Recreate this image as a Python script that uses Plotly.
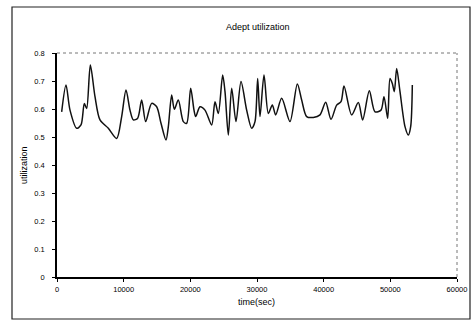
import plotly.graph_objects as go

time_sec = [700, 1350, 1950, 2950, 3600, 4100, 4450, 5000, 5700, 6450, 7700, 8950,
            9700, 10350, 10950, 11450, 12100, 12700, 13300, 14200, 14950, 15600, 16350,
            16700, 17200, 17600, 18200, 18950, 19450, 20050, 20550, 20800, 21450, 22200,
            23200, 23700, 24200, 24850, 25200, 25700, 26200, 26850, 27600, 28450, 29200,
            29700, 30100, 30450, 31050, 31700, 32300, 32800, 33700, 34950, 36050, 36700,
            37450, 38450, 39450, 40300, 41100, 41950, 42600, 43050, 44200, 45200, 45850,
            46850, 47700, 48600, 49050, 49600, 49950, 50300, 50600, 50950, 51450, 52200,
            52700, 53050, 53300]
utilization = [0.590, 0.686, 0.596, 0.531, 0.543, 0.620, 0.602, 0.757, 0.644, 0.561, 0.531, 0.495,
               0.573, 0.668, 0.596, 0.561, 0.567, 0.632, 0.555, 0.620, 0.608, 0.549, 0.489,
               0.537, 0.650, 0.599, 0.632, 0.555, 0.549, 0.674, 0.596, 0.573, 0.608, 0.596,
               0.543, 0.626, 0.584, 0.721, 0.662, 0.507, 0.674, 0.555, 0.698, 0.596, 0.531,
               0.555, 0.709, 0.573, 0.721, 0.584, 0.614, 0.579, 0.638, 0.555, 0.689, 0.632,
               0.573, 0.570, 0.579, 0.624, 0.563, 0.614, 0.626, 0.682, 0.579, 0.623, 0.561,
               0.665, 0.590, 0.596, 0.644, 0.567, 0.709, 0.691, 0.662, 0.745, 0.662, 0.537,
               0.507, 0.537, 0.686]

x_ticks = [0, 10000, 20000, 30000, 40000, 50000, 60000]
y_ticks = [0, 0.1, 0.2, 0.3, 0.4, 0.5, 0.6, 0.7, 0.8]
y_tick_labels = ["0", "0.1", "0.2", "0.3", "0.4", "0.5", "0.6", "0.7", "0.8"]

font = "Liberation Sans, Arial, sans-serif"
ink = "#000000"

fig = go.Figure()
fig.add_trace(go.Scatter(x=time_sec, y=utilization, mode="lines",
                         line=dict(color="#111111", width=1.5, shape="spline", smoothing=0.8),
                         showlegend=False, hoverinfo="skip"))

fig.update_layout(
    width=472, height=325,
    margin=dict(l=57, r=15, t=53, b=48, autoexpand=False),
    paper_bgcolor="white", plot_bgcolor="white",
    font=dict(family=font, size=8, color=ink),
    xaxis=dict(range=[0, 60000], tickvals=x_ticks, ticktext=[str(v) for v in x_ticks],
               showgrid=False, zeroline=False, showline=True, linecolor=ink, linewidth=1.5,
               ticks="outside", ticklen=3, tickcolor=ink, automargin=False,
               ticklabelstandoff=1, tickfont=dict(size=7.5, color=ink)),
    yaxis=dict(range=[0, 0.8], tickvals=y_ticks, ticktext=y_tick_labels,
               showgrid=False, zeroline=False, showline=True, linecolor=ink, linewidth=1.5,
               ticks="outside", ticklen=3, tickcolor=ink, automargin=False,
               ticklabelstandoff=6, tickfont=dict(size=7.5, color=ink)),
    annotations=[
        dict(text="Adept utilization", xref="paper", yref="paper", x=0.5025, y=1.116,
             xanchor="center", yanchor="middle", showarrow=False,
             font=dict(size=9, color=ink)),
        dict(text="utilization", xref="paper", yref="paper", x=-0.0825, y=0.5,
             xanchor="center", yanchor="middle", showarrow=False, textangle=-90,
             font=dict(size=9, color=ink)),
        dict(text="time(sec)", xref="paper", yref="paper", x=0.4975, y=-0.1116,
             xanchor="center", yanchor="middle", showarrow=False,
             font=dict(size=9, color=ink)),
    ],
    shapes=[
        dict(type="line", xref="paper", yref="paper", x0=0, x1=1, y0=1, y1=1,
             line=dict(color="#777777", width=1, dash="dot")),
        dict(type="line", xref="paper", yref="paper", x0=1, x1=1, y0=0, y1=1,
             line=dict(color="#777777", width=1, dash="dot")),
        dict(type="rect", xref="paper", yref="paper",
             x0=-45/400, x1=413/400, y0=-42/224, y1=270/224,
             line=dict(color="#222222", width=1.2)),
    ],
)

fig.write_html("out.html", config={"displayModeBar": False},
               post_script="document.body.style.margin='0px';")
